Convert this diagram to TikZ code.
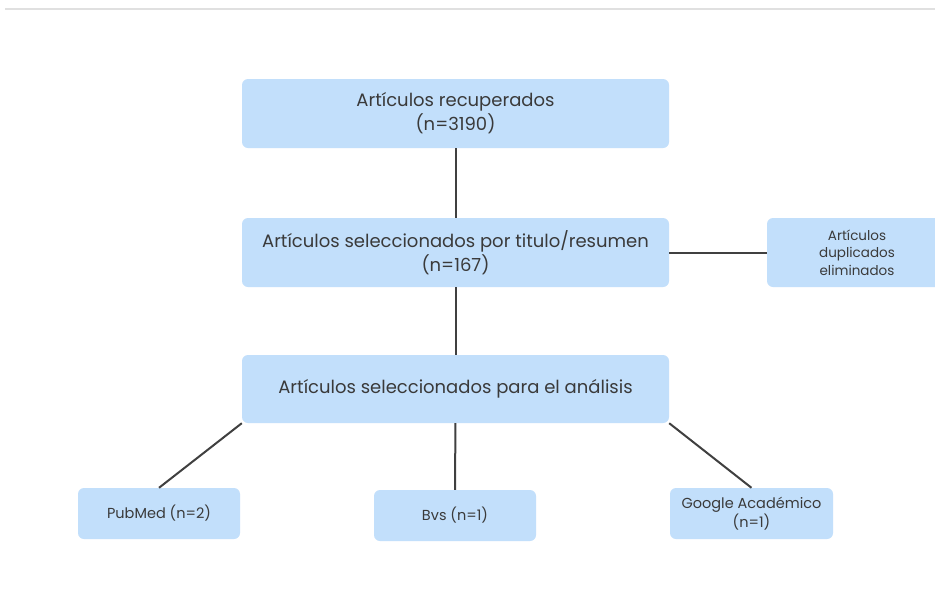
\documentclass[tikz,border=0pt]{standalone}
\usepackage{fontspec}
\setmainfont{Poppins}
\definecolor{boxblue}{HTML}{C2DFFB}
\definecolor{textgray}{HTML}{3A3A3A}
\definecolor{linegray}{HTML}{404040}
\tikzset{
    bigbox/.style={fill=boxblue, rounded corners=6pt, text=textgray, align=center,
        minimum width=427pt, minimum height=69pt, inner sep=0pt,
        font=\fontsize{18}{24}\selectfont},
    sidebox/.style={fill=boxblue, rounded corners=6pt, text=textgray, align=center,
        minimum width=180pt, minimum height=69pt, inner sep=0pt,
        font=\fontsize{13.5}{17.5}\selectfont},
    smallbox/.style={fill=boxblue, rounded corners=6pt, text=textgray, align=center,
        minimum width=162pt, minimum height=51pt, inner sep=0pt,
        font=\fontsize{14.5}{17}\selectfont},
    link/.style={draw=linegray, line width=2pt}
}
\begin{document}
\begin{tikzpicture}[x=1pt, y=-1pt]
        \clip (0,0) rectangle (935,603);
        \fill[white] (0,0) rectangle (935,603);

        % top rule
        \draw[black!12, line width=1.2pt] (5,9) -- (935,9);

        % Main boxes
        \node[bigbox] (recuperados) at (455.5,113.5) {Artículos recuperados\\(n=3190)};
        \node[bigbox] (titulo) at (455.5,252.5) {Artículos seleccionados por titulo/resumen\\(n=167)};
        \node[bigbox, minimum height=68pt] (analisis) at (455.5,389) {Artículos seleccionados para el análisis};

        % Duplicates
        \node[sidebox] (duplicados) at (857,252.5) {Artículos\\duplicados\\eliminados};

        % Databases
        \node[smallbox] (pubmed) at (159,513.5) {PubMed (n=2)};
        \node[smallbox] (bvs) at (455,515.5) {Bvs (n=1)};
        \node[smallbox, minimum width=163pt] (google) at (751.5,513.5) {Google Académico\\(n=1)};

        % Connections
        \draw[link] (recuperados) -- (titulo);
        \draw[link] (titulo) -- (analisis);
        \draw[link] (titulo) -- (duplicados);
        \draw[link] (analisis.south west) -- (pubmed.north);
        \draw[link] (analisis) -- (bvs);
        \draw[link] (analisis.south east) -- (google.north);

     \end{tikzpicture}
\end{document}
